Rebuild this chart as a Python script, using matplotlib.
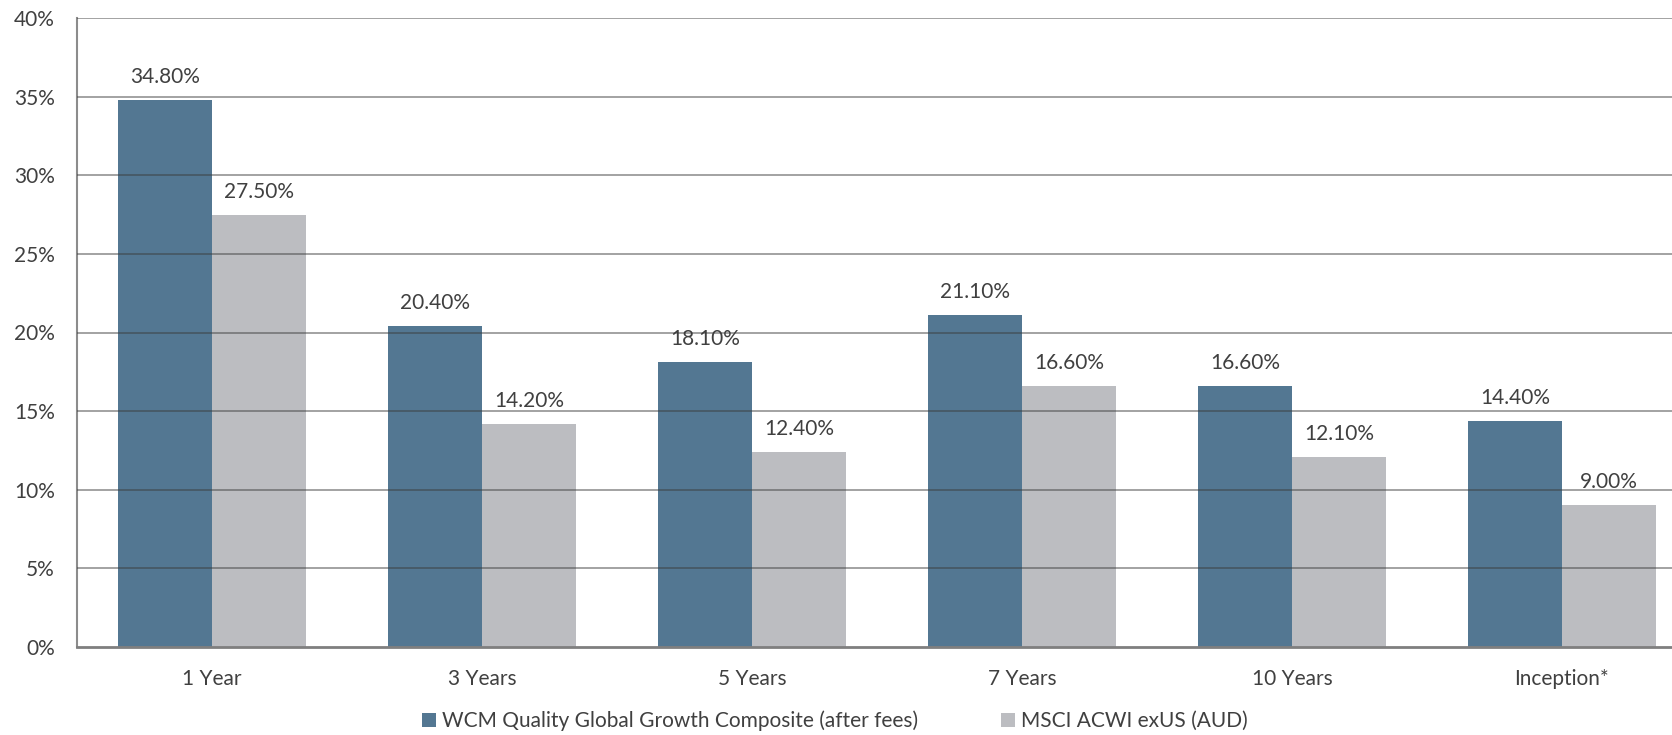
import matplotlib
matplotlib.use("Agg")
import matplotlib.pyplot as plt
import numpy as np
from matplotlib.ticker import FuncFormatter

categories = ["1 Year", "3 Years", "5 Years", "7 Years", "10 Years", "Inception*"]
wcm = [34.80, 20.40, 18.10, 21.10, 16.60, 14.40]
msci = [27.50, 14.20, 12.40, 16.60, 12.10, 9.00]
series_names = ["WCM Quality Global Growth Composite (after fees)", "MSCI ACWI exUS (AUD)"]
yticks = [0, 5, 10, 15, 20, 25, 30, 35, 40]

plt.rcParams['font.family'] = ['Lato', 'DejaVu Sans']
TXT = '#404040'
BLUE = '#537792'
GREY = '#bcbdc1'
FS = 15

fig = plt.figure(figsize=(16.72, 7.35), dpi=100)
ax = fig.add_axes([77/1672, 88/735, 1620/1672, 629/735])

x = np.arange(len(categories))
w = 0.348
b1 = ax.bar(x - w/2, wcm, w, color=BLUE, zorder=2, label=series_names[0])
b2 = ax.bar(x + w/2, msci, w, color=GREY, zorder=2, label=series_names[1])

for bars, vals in ((b1, wcm), (b2, msci)):
    for r, v in zip(bars, vals):
        ax.annotate(f"{v:.2f}%", (r.get_x() + r.get_width()/2, v),
                    xytext=(0, 17), textcoords='offset pixels',
                    ha='center', va='baseline', fontsize=FS, color=TXT)

ax.set_ylim(0, 40)
ax.set_xlim(-0.5, 5.5)
ax.set_yticks(yticks)
ax.yaxis.set_major_formatter(FuncFormatter(lambda v, p: f"{int(v)}%"))
ax.set_xticks(x)
ax.set_xticklabels(categories)
ax.tick_params(axis='both', length=0, labelsize=FS, colors=TXT)
ax.tick_params(axis='y', pad=16)
ax.tick_params(axis='x', pad=16)

for yv in yticks[1:]:
    ax.axhline(yv, color='#3a3a3a', alpha=0.55, lw=1.2, zorder=3)

for s in ['top', 'right']:
    ax.spines[s].set_visible(False)
ax.spines['left'].set_color('#8c8c8c')
ax.spines['left'].set_linewidth(1.5)
ax.spines['bottom'].set_color('#7f7f7f')
ax.spines['bottom'].set_linewidth(2)
ax.spines['bottom'].set_zorder(4)

leg = fig.legend(handles=[b1, b2], loc='center', bbox_to_anchor=(835/1672, 1 - 721/735),
                 ncol=2, frameon=False, fontsize=FS, handlelength=0.65, handleheight=0.65,
                 handletextpad=0.3, columnspacing=4.0, labelcolor=TXT)

fig.savefig("out.png", dpi=100)
